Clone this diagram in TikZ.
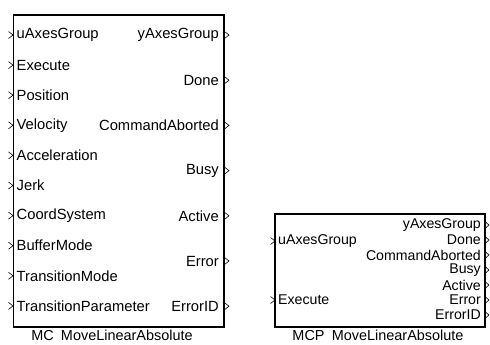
\documentclass[tikz,border=0pt]{standalone}
\usepackage{fontspec}
\setmainfont{Liberation Sans}
\begin{document}
\begin{tikzpicture}[x=1bp,y=-1bp,
  blk/.style={draw,line width=1.1pt,fill=white},
  lbl/.style={inner sep=0pt,font=\fontsize{14.8}{16}\selectfont},
  rlbl/.style={inner sep=0pt,font=\fontsize{14.2}{16}\selectfont},
  chev/.style={line width=0.6pt},
  blkcap/.style={inner sep=0pt,font=\fontsize{14.5}{16}\selectfont}]
\useasboundingbox (0,0) rectangle (490,344);
% left block
\draw[blk] (13.5,15) coordinate (A1) rectangle (224,327) coordinate (A2);
\foreach \t [count=\i from 0] in {uAxesGroup,Execute,Position,Velocity,Acceleration,Jerk,CoordSystem,BufferMode,TransitionMode,TransitionParameter}{
  \pgfmathsetmacro{\yy}{35+30.1*\i}
  \node[lbl,anchor=west] (li\i) at (16.5,\yy) {\t};
  \draw[chev] (8.5,\yy-3.5) -- (13,\yy) -- (8.5,\yy+3.5);
}
\foreach \t [count=\i from 0] in {yAxesGroup,Done,CommandAborted,Busy,Active,Error,ErrorID}{
  \pgfmathsetmacro{\yy}{35+45.2*\i}
  \node[lbl,anchor=east] (lo\i) at (219,\yy) {\t};
  \draw[chev] (224.5,\yy-3.5) -- (229,\yy) -- (224.5,\yy+3.5);
}
\node[blkcap] (capA) at (112,335.5) {MC\enspace MoveLinearAbsolute};
% right block
\draw[blk] (275,214) coordinate (B1) rectangle (485,327) coordinate (B2);
\node[rlbl,anchor=west] (ri0) at (278,241) {uAxesGroup};
\draw[chev] (270.5,237.5) -- (275,241) -- (270.5,244.5);
\node[rlbl,anchor=west] (ri1) at (278,300) {Execute};
\draw[chev] (270.5,296.5) -- (275,300) -- (270.5,303.5);
\foreach \t [count=\i from 0] in {yAxesGroup,Done,CommandAborted,Busy,Active,Error,ErrorID}{
  \pgfmathsetmacro{\yy}{225+15*\i}
  \node[rlbl,anchor=east] (ro\i) at (481,\yy) {\t};
  \draw[chev] (485.5,\yy-3) -- (489,\yy) -- (485.5,\yy+3);
}
\node[blkcap] (capB) at (378,335.5) {MCP\enspace MoveLinearAbsolute};
\end{tikzpicture}
\end{document}
